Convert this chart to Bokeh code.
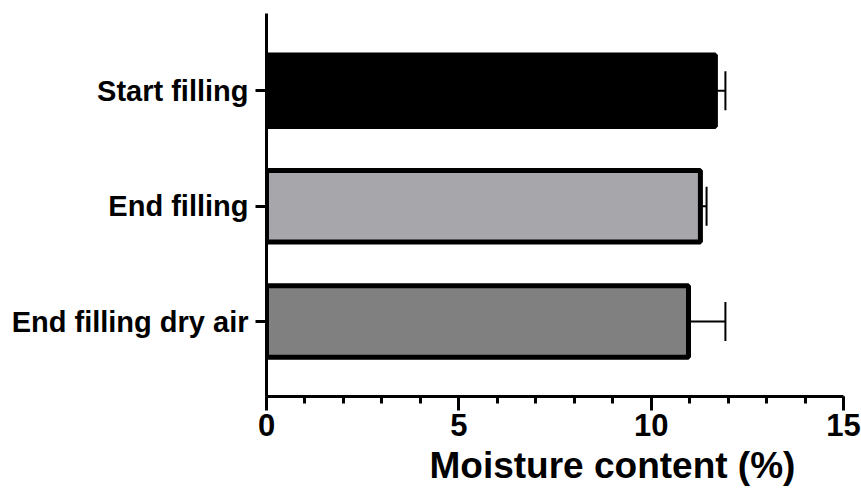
from bokeh.plotting import figure
from bokeh.models import ColumnDataSource, Whisker, TeeHead, FixedTicker, SingleIntervalTicker, Range1d, Title
from bokeh.embed import file_html
from bokeh.resources import INLINE

categories = ["Start filling", "End filling", "End filling dry air"]
moisture = [11.67, 11.28, 10.97]
sd = [0.26, 0.16, 0.96]
fill_colors = ["#000000", "#a7a6ab", "#808080"]
x_label = "Moisture content (%)"

pos = [3, 2, 1]
upper = [m + s for m, s in zip(moisture, sd)]
src = ColumnDataSource(dict(y=pos, cat=categories, x=moisture, upper=upper, fill=fill_colors))

FONT = "Liberation Sans"

p = figure(width=861, height=497, output_backend="svg", toolbar_location=None,
           x_range=Range1d(0, 15), y_range=Range1d(0.35, 3.67),
           min_border_left=266, min_border_right=18, min_border_top=13, min_border_bottom=101)

p.hbar(y="y", left=0, right="x", height=0.62, fill_color="fill", line_color="black",
       line_width=5, source=src)

w = Whisker(base="y", lower="x", upper="upper", dimension="width", source=src,
            line_width=2, line_color="black",
            upper_head=TeeHead(size=39, line_width=2, line_color="black"), lower_head=None)
p.add_layout(w)

p.xgrid.visible = False
p.ygrid.visible = False
p.outline_line_color = None

xa = p.xaxis[0]
xa.ticker = SingleIntervalTicker(interval=5, num_minor_ticks=5)
xa.axis_line_width = 3
xa.axis_line_color = "black"
xa.major_tick_line_width = 3
xa.major_tick_out = 14
xa.major_tick_in = 0
xa.minor_tick_line_width = 3
xa.minor_tick_out = 7
xa.minor_tick_in = 0
xa.major_label_text_font = FONT
xa.major_label_text_font_style = "bold"
xa.major_label_text_font_size = "31px"
xa.major_label_text_color = "black"
xa.major_label_standoff = 3

t = Title(text=x_label, align="left", offset=163, standoff=8,
          text_font=FONT, text_font_style="bold", text_font_size="37px", text_color="black")
p.add_layout(t, "below")

ya = p.yaxis[0]
ya.ticker = FixedTicker(ticks=pos)
ya.major_label_overrides = {pv: c for pv, c in zip(pos, categories)}
ya.axis_line_width = 3
ya.axis_line_color = "black"
ya.major_tick_line_width = 3
ya.major_tick_out = 11
ya.major_tick_in = 0
ya.minor_tick_line_color = None
ya.major_label_text_font = FONT
ya.major_label_text_font_style = "bold"
ya.major_label_text_font_size = "29px"
ya.major_label_text_color = "black"
ya.major_label_standoff = 7

open("out.html", "w").write(file_html(p, INLINE))
